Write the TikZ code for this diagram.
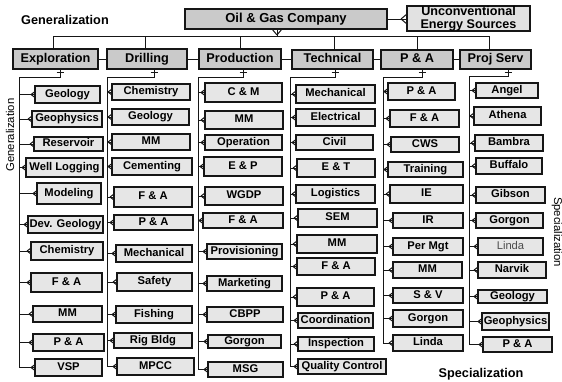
\documentclass[tikz,border=0pt]{standalone}
\usepackage{fontspec}
\setmainfont{Liberation Sans}
\usetikzlibrary{calc}
\definecolor{deptgray}{HTML}{CACACA}
\definecolor{childgray}{HTML}{E6E6E6}
\definecolor{unconvgray}{HTML}{E2E2E2}
\definecolor{linegray}{HTML}{161616}
\tikzset{
  conn/.style={draw=linegray, line width=1pt},
  childbox/.style={draw=linegray, line width=1.3pt, fill=childgray, inner sep=0pt, outer sep=0pt,
    text height=8pt, text depth=2.3pt, font=\bfseries\fontsize{11.2}{12}\selectfont},
  deptbox/.style={draw=linegray, line width=1.3pt, fill=deptgray, inner sep=0pt, outer sep=0pt,
    text height=9pt, text depth=2.6pt, font=\bfseries\fontsize{12.7}{14}\selectfont},
  topbox/.style={draw=linegray, line width=1.3pt, fill=deptgray, inner sep=0pt, outer sep=0pt,
    text height=9pt, text depth=2.6pt, font=\bfseries\fontsize{13}{14}\selectfont},
  unconvbox/.style={draw=linegray, line width=1.3pt, fill=unconvgray, inner sep=0pt, outer sep=0pt,
    align=center, font=\bfseries\fontsize{12.6}{12.6}\selectfont},
  boldlabel/.style={font=\bfseries\fontsize{12.7}{14}\selectfont, inner sep=0pt},
  sidelabel/.style={font=\fontsize{11.3}{12}\selectfont, inner sep=0pt}
}
% child box: [opts]{name}{trunk}{x1}{y1}{x2}{y2}{text}
\newcommand\cb[8][]{%
  \node[childbox,minimum width={(#6-#4)*1pt},minimum height={(#7-#5)*1pt},#1] (#2) at ({(#4+#6)/2},{(#5+#7)/2}) {#8};
  \draw[conn] (#2.west -| #3) -- (#2.west);
  \draw[conn] ($(#2.west)+(-4,0)$) -- ($(#2.west)+(0,-3)$) ($(#2.west)+(-4,0)$) -- ($(#2.west)+(0,3)$);
}
% department box: {name}{x1}{y1}{x2}{y2}{text}
\newcommand\db[6]{%
  \node[deptbox,minimum width={(#4-#2)*1pt},minimum height={(#5-#3)*1pt}] (#1) at ({(#2+#4)/2},{(#3+#5)/2}) {#6};
}
% department "one" tick and trunk: {dept}{tick}{trunk}{last child}
\newcommand\trunk[4]{%
  \draw[conn] (#1.south -| #2) -- (#2) -- (#3) -- (#3 |- #4.west);
  \draw[conn] ($(#1.south -| #2)+(-3.5,3.5)$) -- ++(7,0);
}
\begin{document}
\begin{tikzpicture}[x=1pt,y=-1pt]
\useasboundingbox (0,0) rectangle (562,381);

% labels
\node[boldlabel] (lgen) at (65,20) {Generalization};
\node[boldlabel] (lspec) at (481,374) {Specialization};
\node[sidelabel,rotate=90] (lgenv) at (10,135) {Generalization};
\node[sidelabel,rotate=-90] (lspecv) at (557,232) {Specialization};

% top
\node[topbox,minimum width=202pt,minimum height=20pt] (oil) at (286,19) {Oil \& Gas Company};
\node[unconvbox,minimum width=123pt,minimum height=25pt] (unc) at (468.5,18.5) {Unconventional\\Energy Sources};
\draw[conn] (oil.east) -- (oil.east -| unc.west);
\draw[conn] ($(oil.east -| unc.west)+(-6,0)$) -- ($(oil.east -| unc.west)+(0,-5)$)
            ($(oil.east -| unc.west)+(-6,0)$) -- ($(oil.east -| unc.west)+(0,5)$);

% departments
\db{exp}{13}{49}{98}{69}{Exploration}
\db{dri}{107}{49}{187}{69}{Drilling}
\db{pro}{199}{49}{281}{69}{Production}
\db{tec}{292}{50}{373}{69}{Technical}
\db{pna}{381}{50}{453}{69}{P \& A}
\db{psv}{460}{50}{531}{69}{Proj Serv}

% bus
\coordinate (bE) at (53,36);
\coordinate (bD) at (145,36);
\coordinate (bP) at (240,36);
\coordinate (bT) at (334,36);
\coordinate (bA) at (417,36);
\coordinate (bS) at (489,36);
\coordinate (bO) at (277,36);
\draw[conn] (bE) -- (bS);
\draw[conn] (bE) -- (bE |- exp.north);
\draw[conn] (bD) -- (bD |- dri.north);
\draw[conn] (bP) -- (bP |- pro.north);
\draw[conn] (bT) -- (bT |- tec.north);
\draw[conn] (bA) -- (bA |- pna.north);
\draw[conn] (bS) -- (bS |- psv.north);
\draw[conn] (bO) -- (bO |- oil.south);
\draw[conn] ($(bO)+(0,-1)$) -- ($(bO |- oil.south)+(-5,0)$)
            ($(bO)+(0,-1)$) -- ($(bO |- oil.south)+(5,0)$);

% links between departments
\draw[conn] (exp.east) -- (exp.east -| dri.west);
\draw[conn] (dri.east) -- (dri.east -| pro.west);
\draw[conn] (pro.east) -- (pro.east -| tec.west);
\draw[conn] (tec.east) -- (tec.east -| pna.west);
\draw[conn] (pna.east) -- (pna.east -| psv.west);

% trunk coordinates
\coordinate (Etk) at (60,77);  \coordinate (Etr) at (19,77);
\coordinate (Dtk) at (154,77); \coordinate (Dtr) at (107,77);
\coordinate (Ptk) at (243,77); \coordinate (Ptr) at (198,77);
\coordinate (Ttk) at (335,77); \coordinate (Ttr) at (290,77);
\coordinate (Atk) at (422,77); \coordinate (Atr) at (383,77);
\coordinate (Stk) at (508,76); \coordinate (Str) at (469,76);

% Exploration
\cb{E1}{Etr}{35}{86}{100}{103}{Geology}
\cb{E2}{Etr}{32}{111}{102}{127}{Geophysics}
\cb{E3}{Etr}{34}{137}{103}{151}{Reservoir}
\cb{E4}{Etr}{26}{158}{103}{177}{Well Logging}
\cb{E5}{Etr}{37}{183}{101}{204}{Modeling}
\cb{E6}{Etr}{28}{216}{103}{233}{Dev. Geology}
\cb{E7}{Etr}{31}{242}{103}{260}{Chemistry}
\cb{E8}{Etr}{31}{273}{102}{292}{F \& A}
\cb{E9}{Etr}{33}{306}{102}{322}{MM}
\cb{E10}{Etr}{33}{334}{104}{351}{P \& A}
\cb{E11}{Etr}{35}{359}{102}{376}{VSP}
\trunk{exp}{Etk}{Etr}{E11}

% Drilling
\cb{D1}{Dtr}{112}{84}{190}{100}{Chemistry}
\cb{D2}{Dtr}{112}{109}{189}{125}{Geology}
\cb{D3}{Dtr}{112}{134}{190}{150}{MM}
\cb{D4}{Dtr}{112}{158}{192}{175}{Cementing}
\cb{D5}{Dtr}{114}{187}{192}{207}{F \& A}
\cb{D6}{Dtr}{114}{215}{193}{230}{P \& A}
\cb{D7}{Dtr}{116}{245}{192}{262}{Mechanical}
\cb{D8}{Dtr}{117}{273}{192}{291}{Safety}
\cb{D9}{Dtr}{116}{306}{192}{323}{Fishing}
\cb{D10}{Dtr}{114}{333}{192}{348}{Rig Bldg}
\cb{D11}{Dtr}{117}{358}{194}{375}{MPCC}
\trunk{dri}{Dtk}{Dtr}{D11}

% Production
\cb{P1}{Ptr}{205}{83}{282}{102}{C \& M}
\cb{P2}{Ptr}{205}{111}{283}{129}{MM}
\cb{P3}{Ptr}{205}{135}{282}{150}{Operation}
\cb{P4}{Ptr}{204}{157}{282}{176}{E \& P}
\cb{P5}{Ptr}{205}{187}{283}{205}{WGDP}
\cb{P6}{Ptr}{203}{213}{283}{228}{F \& A}
\cb{P7}{Ptr}{207}{244}{282}{259}{Provisioning}
\cb{P8}{Ptr}{207}{276}{282}{291}{Marketing}
\cb{P9}{Ptr}{207}{307}{283}{322}{CBPP}
\cb{P10}{Ptr}{208}{335}{281}{348}{Gorgon}
\cb{P11}{Ptr}{208}{362}{283}{377}{MSG}
\trunk{pro}{Ptk}{Ptr}{P11}

% Technical
\cb{T1}{Ttr}{296}{85}{375}{103}{Mechanical}
\cb{T2}{Ttr}{296}{109}{375}{126}{Electrical}
\cb{T3}{Ttr}{296}{135}{373}{150}{Civil}
\cb{T4}{Ttr}{297}{159}{375}{177}{E \& T}
\cb{T5}{Ttr}{296}{185}{375}{203}{Logistics}
\cb{T6}{Ttr}{298}{209}{377}{227}{SEM}
\cb{T7}{Ttr}{297}{235}{377}{253}{MM}
\cb{T8}{Ttr}{297}{258}{375}{275}{F \& A}
\cb{T9}{Ttr}{297}{288}{374}{306}{P \& A}
\cb{T10}{Ttr}{298}{313}{373}{328}{Coordination}
\cb{T11}{Ttr}{298}{337}{374}{351}{Inspection}
\cb{T12}{Ttr}{298}{359}{386}{374}{Quality Control}
\trunk{tec}{Ttk}{Ttr}{T12}

% P & A
\cb{A1}{Atr}{388}{83}{455}{100}{P \& A}
\cb{A2}{Atr}{390}{110}{459}{127}{F \& A}
\cb{A3}{Atr}{391}{137}{459}{152}{CWS}
\cb{A4}{Atr}{388}{162}{463}{177}{Training}
\cb{A5}{Atr}{390}{185}{463}{203}{IE}
\cb{A6}{Atr}{393}{213}{463}{228}{IR}
\cb{A7}{Atr}{393}{238}{463}{255}{Per Mgt}
\cb{A8}{Atr}{393}{262}{462}{278}{MM}
\cb{A9}{Atr}{393}{288}{463}{303}{S \& V}
\cb{A10}{Atr}{393}{310}{463}{327}{Gorgon}
\cb{A11}{Atr}{393}{335}{463}{351}{Linda}
\trunk{pna}{Atk}{Atr}{A11}

% Proj Serv
\cb{S1}{Str}{476}{83}{538}{98}{Angel}
\cb{S2}{Str}{474}{107}{541}{125}{Athena}
\cb{S3}{Str}{475}{135}{543}{151}{Bambra}
\cb{S4}{Str}{476}{158}{542}{174}{Buffalo}
\cb{S5}{Str}{476}{187}{545}{203}{Gibson}
\cb{S6}{Str}{476}{213}{543}{228}{Gorgon}
\cb[font=\fontsize{11.2}{12}\selectfont,text=black!70]{S7}{Str}{478}{238}{543}{255}{Linda}
\cb{S8}{Str}{478}{262}{546}{278}{Narvik}
\cb{S9}{Str}{478}{290}{547}{303}{Geology}
\cb{S10}{Str}{482}{313}{549}{330}{Geophysics}
\cb{S11}{Str}{483}{337}{552}{352}{P \& A}
\trunk{psv}{Stk}{Str}{S11}
\end{tikzpicture}
\end{document}
